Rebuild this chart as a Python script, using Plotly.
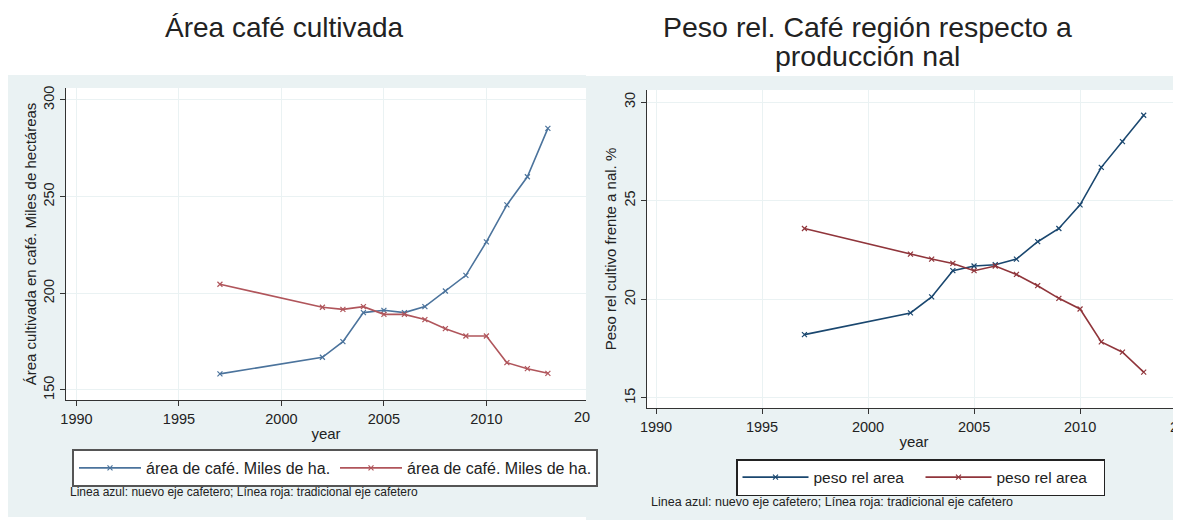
import plotly.graph_objects as go

years = [1997, 2002, 2003, 2004, 2005, 2006, 2007, 2008, 2009, 2010, 2011, 2012, 2013]

# area cultivada (miles de ha)
area_nuevo = [158.3, 166.9, 175.0, 190.0, 191.2, 190.0, 193.1, 201.2, 209.3, 226.6, 245.7, 260.3, 285.3]
area_trad = [204.7, 192.8, 191.7, 193.1, 189.1, 189.1, 186.4, 181.7, 177.9, 177.9, 164.1, 161.0, 158.6]

# peso relativo frente a produccion nacional (%)
peso_nuevo = [18.21, 19.31, 20.12, 21.45, 21.69, 21.75, 22.04, 22.92, 23.59, 24.79, 26.69, 27.99, 29.33]
peso_trad = [23.59, 22.29, 22.04, 21.82, 21.45, 21.69, 21.26, 20.69, 20.05, 19.51, 17.84, 17.32, 16.31]

x_ticks = [1990, 1995, 2000, 2005, 2010]
area_ticks = [150, 200, 250, 300]
peso_ticks = [15, 20, 25, 30]

# page body has an 8px margin, so the figure is a bit smaller than the window
OFF = 8
W, H = 1181 - OFF, 520 - OFF
FONT = "Arial, Liberation Sans, sans-serif"
BG = "#EAF2F3"
NAVY, MAROON = "#1a476f", "#90353b"
NAVY_L, MAROON_L = "#4b739c", "#b0555b"


def px(x):
    return (x - OFF) / W


def py(y):
    return 1 - (y - OFF) / H


fig = go.Figure()


def add_line(x, y, color, name, xa, ya, legend):
    fig.add_trace(go.Scatter(
        x=x, y=y, mode="lines+markers", name=name,
        xaxis=xa, yaxis=ya, legend=legend,
        line=dict(color=color, width=1.6),
        marker=dict(symbol="x-thin", size=5, line=dict(color=color, width=1.2)),
    ))


add_line(years, area_nuevo, NAVY_L, "área de café. Miles de ha.", "x", "y", "legend")
add_line(years, area_trad, MAROON_L, "área de café. Miles de ha.", "x", "y", "legend")
add_line(years, peso_nuevo, NAVY, "peso rel area", "x2", "y2", "legend2")
add_line(years, peso_trad, MAROON, "peso rel area", "x2", "y2", "legend2")

ax_common = dict(
    showgrid=True, gridcolor=BG, gridwidth=1,
    showline=True, linecolor="#333333", linewidth=1.2,
    ticks="outside", ticklen=5, tickcolor="#333333",
    tickfont=dict(size=14.5, color="#222222"),
    zeroline=False, tickmode="array",
)

fig.update_layout(
    width=W, height=H,
    margin=dict(l=0, r=0, t=0, b=0, autoexpand=False),
    paper_bgcolor="white", plot_bgcolor="white",
    font=dict(family=FONT, color="#222222"),
    xaxis=dict(ax_common, domain=[px(66), px(586)], range=[1989.49, 2014.86],
               tickvals=x_ticks, anchor="y",
               title=dict(text="year", font=dict(size=15), standoff=2)),
    yaxis=dict(ax_common, domain=[py(400), py(88)], range=[144.8, 306.2],
               tickvals=area_ticks, tickangle=-90, anchor="x",
               title=dict(text="Área cultivada en café. Miles de hectáreas",
                          font=dict(size=15), standoff=0)),
    xaxis2=dict(ax_common, domain=[px(647), 1], range=[1989.575, 2014.76],
                tickvals=x_ticks, anchor="y2",
                title=dict(text="year", font=dict(size=15), standoff=2)),
    yaxis2=dict(ax_common, domain=[py(408), py(90)], range=[14.49, 30.61],
                tickvals=peso_ticks, tickangle=-90, anchor="x2",
                title=dict(text="Peso rel cultivo frente a nal. %",
                           font=dict(size=15), standoff=1)),
    legend=dict(
        orientation="h", x=px(72), y=py(449), xanchor="left", yanchor="top",
        bgcolor="white", bordercolor="#555555", borderwidth=2,
        font=dict(size=16), entrywidth=184, entrywidthmode="pixels",
        itemwidth=62,
    ),
    legend2=dict(
        orientation="h", x=px(736), y=py(459), xanchor="left", yanchor="top",
        bgcolor="white", bordercolor="#222222", borderwidth=1.5,
        font=dict(size=15.5), entrywidth=102, entrywidthmode="pixels",
        itemwidth=66,
    ),
)

# graph region backgrounds (stata style) and white plot regions
fig.add_shape(type="rect", xref="paper", yref="paper", layer="below",
              x0=px(8), x1=px(586), y0=py(517), y1=py(75),
              fillcolor=BG, line_width=0)
fig.add_shape(type="rect", xref="paper", yref="paper", layer="below",
              x0=px(586), x1=1, y0=0, y1=py(76),
              fillcolor=BG, line_width=0)
fig.add_shape(type="rect", xref="paper", yref="paper", layer="below",
              x0=px(66), x1=px(586), y0=py(400), y1=py(88),
              fillcolor="white", line_width=0)
fig.add_shape(type="rect", xref="paper", yref="paper", layer="below",
              x0=px(647), x1=1, y0=py(408), y1=py(90),
              fillcolor="white", line_width=0)


def note_text(text, x, y, size, xanchor="center"):
    fig.add_annotation(text=text, xref="paper", yref="paper", x=px(x), y=py(y),
                       xanchor=xanchor, yanchor="middle", showarrow=False,
                       font=dict(size=size))


# titles
note_text("Área café cultivada", 284, 27, 28)
note_text("Peso rel. Café región respecto a", 867, 27, 28.5)
note_text("producción nal", 867, 56, 28.5)

# clipped last tick labels
note_text("20", 572, 417, 14.5, "left")
note_text("2015", 1168, 427, 14.5, "left")

# notes
note = "Linea azul: nuevo eje cafetero; Línea roja: tradicional eje cafetero"
note_text(note, 68, 492, 12, "left")
note_text(note, 649, 502, 12.5, "left")

fig.write_html("out.html")
